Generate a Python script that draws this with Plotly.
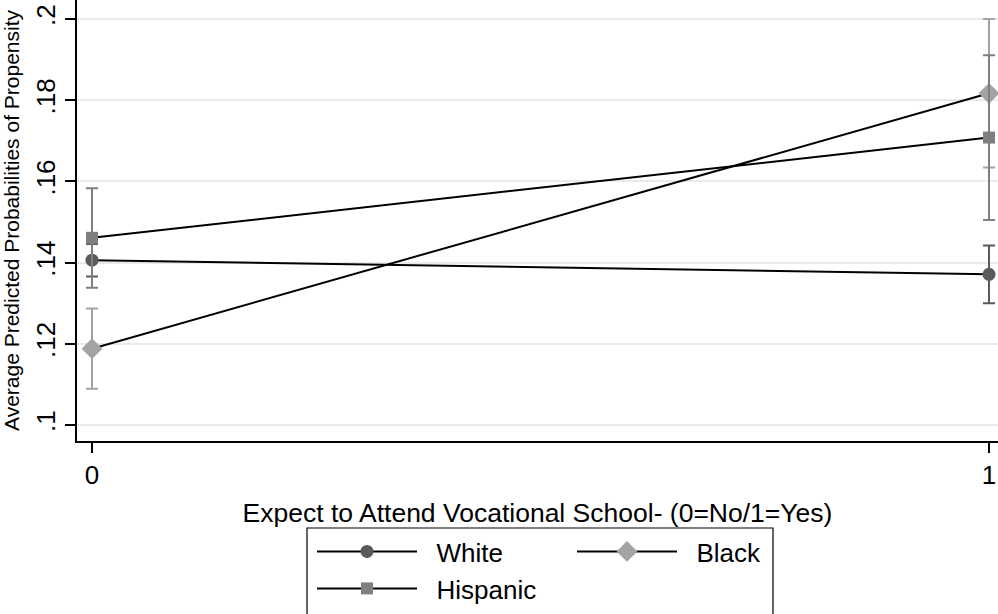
import plotly.graph_objects as go

x_vals = [0, 1]
groups = ["White", "Black", "Hispanic"]
white_y = [0.1406, 0.1371]
white_lo = [0.1366, 0.1300]
white_hi = [0.1446, 0.1442]
black_y = [0.1188, 0.1817]
black_lo = [0.1089, 0.1634]
black_hi = [0.1287, 0.2000]
hisp_y = [0.1461, 0.1708]
hisp_lo = [0.1338, 0.1505]
hisp_hi = [0.1583, 0.1911]
y_ticks = [0.10, 0.12, 0.14, 0.16, 0.18, 0.20]
y_ticklabels = [".1", ".12", ".14", ".16", ".18", ".2"]

series = [
    (groups[0], white_y, white_lo, white_hi, "circle", "#5a5a5a", 13, "legend"),
    (groups[1], black_y, black_lo, black_hi, "diamond", "#a3a3a3", 16, "legend"),
    (groups[2], hisp_y, hisp_lo, hisp_hi, "square", "#7f7f7f", 12, "legend2"),
]

fig = go.Figure()
for name, yv, lo, hi, sym, col, sz, lg in series:
    fig.add_trace(go.Scatter(
        x=x_vals, y=yv, name="\u00a0\u00a0" + name, mode="lines+markers",
        line=dict(color="black", width=2),
        marker=dict(symbol=sym, color=col, size=sz, line=dict(width=0)),
        error_y=dict(type="data", symmetric=False,
                     array=[h - v for h, v in zip(hi, yv)],
                     arrayminus=[v - l for l, v in zip(lo, yv)],
                     color=col, thickness=2, width=6),
        cliponaxis=False, legend=lg,
    ))

FONT = "Liberation Sans, Arial, Helvetica, sans-serif"
W, H = 998, 614
L, B = 77, 173
PW, PH = W - L, H - B


def px_to_paper_x(px):
    return (px - L) / PW


def px_to_paper_y(py):
    return (H - B - py) / PH


legend_common = dict(
    orientation="h", xref="container", yref="container",
    xanchor="left", yanchor="top", bgcolor="rgba(0,0,0,0)", borderwidth=0,
    font=dict(size=26, family=FONT), itemwidth=100,
    entrywidth=145, entrywidthmode="pixels",
)

fig.update_layout(
    width=W, height=H,
    margin=dict(l=L, r=0, t=0, b=B, autoexpand=False),
    paper_bgcolor="white", plot_bgcolor="white",
    font=dict(family=FONT, color="black"),
    showlegend=True,
    legend=dict(x=312/W, y=1-528/H, **legend_common),
    legend2=dict(x=312/W, y=1-565/H, **legend_common),
    shapes=[dict(
        type="rect", xref="paper", yref="paper",
        x0=px_to_paper_x(307), x1=px_to_paper_x(773),
        y0=px_to_paper_y(528), y1=px_to_paper_y(640),
        line=dict(color="black", width=1.2), fillcolor="white", layer="below",
    )],
    xaxis=dict(
        range=[-15/897, 1+9/897], tickvals=[0, 1], ticktext=["0", "1"],
        showgrid=False, zeroline=False, showline=True, linecolor="black",
        linewidth=2, ticks="outside", ticklen=10, tickwidth=1.5,
        tickcolor="black", tickfont=dict(size=26),
        title=dict(text="Expect to Attend Vocational School- (0=No/1=Yes)",
                   font=dict(size=26.5), standoff=16),
    ),
    yaxis=dict(
        range=[0.1 - 16/4060, 0.1 + 425/4060], tickvals=y_ticks,
        ticktext=y_ticklabels, tickangle=-90,
        showgrid=True, gridcolor="#eaeaea", gridwidth=1.5,
        zeroline=False, showline=True, linecolor="black", linewidth=2,
        ticks="outside", ticklen=10, tickwidth=1.5, tickcolor="black",
        tickfont=dict(size=26),
        title=dict(text="Average Predicted Probabilities of Propensity",
                   font=dict(size=21), standoff=6),
    ),
)
fig.write_html(
    "out.html",
    config={"displayModeBar": False},
    post_script="document.body.style.margin='0';document.body.style.overflow='hidden';",
)
